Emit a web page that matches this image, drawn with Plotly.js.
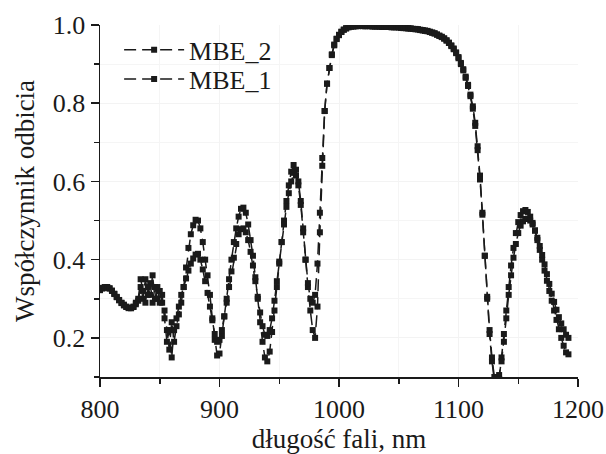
<!DOCTYPE html>
<html>
<head>
<meta charset="utf-8">
<script src="https://cdn.plot.ly/plotly-3.0.1.min.js"></script>
<style>html,body{margin:0;padding:0;background:#fff;}</style>
</head>
<body>
<div id="chart" style="width:606px;height:454px;"></div>
<script>
const wavelength = [
  800,802,804,806,808,810,812,814,816,818,
  820,822,824,826,828,830,832,834,836,838,
  840,842,844,846,848,850,852,854,856,858,
  860,862,864,866,868,870,872,874,876,878,
  880,882,884,886,888,890,892,894,896,898,
  900,902,904,906,908,910,912,914,916,918,
  920,922,924,926,928,930,932,934,936,938,
  940,942,944,946,948,950,952,954,956,958,
  960,962,964,966,968,970,972,974,976,978,
  980,982,984,986,988,990,992,994,996,998,
  1000,1002,1004,1006,1008,1010,1012,1014,1016,1018,
  1020,1022,1024,1026,1028,1030,1032,1034,1036,1038,
  1040,1042,1044,1046,1048,1050,1052,1054,1056,1058,
  1060,1062,1064,1066,1068,1070,1072,1074,1076,1078,
  1080,1082,1084,1086,1088,1090,1092,1094,1096,1098,
  1100,1102,1104,1106,1108,1110,1112,1114,1116,1118,
  1120,1122,1124,1126,1128,1130,1132,1134,1136,1138,
  1140,1142,1144,1146,1148,1150,1152,1154,1156,1158,
  1160,1162,1164,1166,1168,1170,1172,1174,1176,1178,
  1180,1182,1184,1186,1188,1190,1192
];

const mbe2 = [
  0.325,0.328,0.330,0.330,0.327,0.321,0.313,0.305,0.297,0.290,
  0.285,0.280,0.277,0.276,0.279,0.286,0.295,0.330,0.300,0.350,
  0.310,0.340,0.290,0.330,0.300,0.320,0.290,0.270,0.220,0.170,
  0.240,0.190,0.230,0.260,0.290,0.330,0.380,0.430,0.465,0.488,
  0.502,0.500,0.480,0.445,0.400,0.360,0.310,0.250,0.195,0.155,
  0.160,0.205,0.255,0.300,0.350,0.400,0.445,0.480,0.510,0.530,
  0.533,0.520,0.490,0.450,0.410,0.355,0.300,0.240,0.190,0.150,
  0.140,0.165,0.215,0.270,0.330,0.390,0.445,0.500,0.550,0.590,
  0.625,0.642,0.630,0.600,0.550,0.480,0.400,0.330,0.270,0.220,
  0.200,0.280,0.470,0.640,0.780,0.850,0.890,0.925,0.950,0.965,
  0.975,0.983,0.988,0.992,0.995,0.996,0.997,0.997,0.998,0.998,
  0.997,0.997,0.998,0.997,0.997,0.996,0.997,0.996,0.996,0.995,
  0.996,0.995,0.995,0.994,0.995,0.994,0.993,0.993,0.992,0.992,
  0.991,0.990,0.990,0.989,0.988,0.987,0.986,0.985,0.983,0.981,
  0.979,0.976,0.973,0.970,0.966,0.961,0.955,0.948,0.940,0.930,
  0.918,0.903,0.887,0.868,0.847,0.822,0.792,0.750,0.690,0.615,
  0.520,0.410,0.300,0.210,0.140,0.090,0.070,0.095,0.150,0.210,
  0.270,0.330,0.385,0.430,0.468,0.496,0.514,0.524,0.527,0.522,
  0.510,0.494,0.474,0.450,0.425,0.400,0.372,0.346,0.320,0.295,
  0.270,0.246,0.222,0.200,0.180,0.163,0.158
];

const mbe1 = [
  0.322,0.326,0.328,0.329,0.326,0.320,0.312,0.304,0.296,0.289,
  0.283,0.279,0.276,0.276,0.280,0.290,0.300,0.350,0.320,0.290,
  0.330,0.310,0.360,0.300,0.330,0.290,0.310,0.250,0.190,0.220,
  0.150,0.220,0.250,0.280,0.310,0.330,0.352,0.372,0.390,0.403,
  0.413,0.415,0.400,0.375,0.345,0.315,0.280,0.245,0.210,0.190,
  0.195,0.220,0.255,0.290,0.330,0.370,0.405,0.440,0.465,0.478,
  0.480,0.470,0.450,0.420,0.385,0.345,0.305,0.265,0.230,0.208,
  0.205,0.220,0.250,0.295,0.345,0.395,0.445,0.490,0.535,0.570,
  0.600,0.622,0.615,0.590,0.540,0.470,0.400,0.340,0.300,0.290,
  0.310,0.390,0.520,0.660,0.780,0.850,0.890,0.923,0.948,0.964,
  0.974,0.982,0.988,0.991,0.994,0.996,0.996,0.997,0.997,0.998,
  0.998,0.997,0.997,0.998,0.996,0.997,0.996,0.996,0.995,0.996,
  0.995,0.995,0.994,0.995,0.994,0.994,0.993,0.992,0.992,0.991,
  0.991,0.990,0.989,0.989,0.987,0.986,0.985,0.984,0.982,0.980,
  0.978,0.975,0.972,0.969,0.965,0.960,0.954,0.946,0.938,0.928,
  0.915,0.900,0.884,0.865,0.844,0.818,0.786,0.742,0.680,0.605,
  0.515,0.410,0.305,0.220,0.150,0.100,0.088,0.105,0.140,0.190,
  0.250,0.310,0.360,0.405,0.440,0.468,0.487,0.498,0.504,0.505,
  0.500,0.490,0.475,0.456,0.435,0.412,0.388,0.363,0.338,0.313,
  0.292,0.272,0.253,0.237,0.222,0.208,0.200
];

const seriesNames = ['MBE_2', 'MBE_1'];
const xTicks = [800, 900, 1000, 1100, 1200];
const xTickText = ['800', '900', '1000', '1100', '1200'];
const yTicks = [0.2, 0.4, 0.6, 0.8, 1.0];
const yTickText = ['0.2', '0.4', '0.6', '0.8', '1.0'];

const FONT = 'Liberation Serif, Times New Roman, serif';
const INK = '#1a1a1a';

function trace(name, ys, legendId) {
  return {
    x: wavelength, y: ys, name: name, type: 'scatter', mode: 'lines+markers',
    legend: legendId,
    line: {color: INK, width: 1.5, dash: '12px,6px'},
    marker: {color: INK, size: 6, symbol: 'square'}
  };
}

const data = [trace(seriesNames[0], mbe2, 'legend'), trace(seriesNames[1], mbe1, 'legend2')];

function legendAt(y) {
  return {x: 0.04, y: y, xanchor: 'left', yanchor: 'top',
    bgcolor: 'rgba(0,0,0,0)', borderwidth: 0, itemwidth: 60,
    font: {family: FONT, size: 26, color: INK}};
}

const layout = {
  width: 606, height: 454,
  margin: {l: 100, r: 28, t: 25, b: 77, pad: 0},
  paper_bgcolor: '#fff', plot_bgcolor: '#fff',
  font: {family: FONT, size: 26, color: INK},
  showlegend: true,
  legend: legendAt(0.996),
  legend2: legendAt(0.913),
  xaxis: {
    range: [800, 1200], tickmode: 'array', tickvals: xTicks, ticktext: xTickText,
    ticks: 'outside', ticklen: 8, tickwidth: 1.5, tickcolor: INK,
    showline: true, linecolor: INK, linewidth: 1.5, mirror: false,
    showgrid: true, gridcolor: '#f3f3f3', gridwidth: 1, zeroline: false,
    minor: {dtick: 50, tick0: 800, ticks: 'outside', ticklen: 5, tickwidth: 1.5, tickcolor: INK, showgrid: true, gridcolor: '#f5f5f5'},
    tickfont: {family: FONT, size: 26, color: INK},
    title: {text: 'długość fali, nm', font: {family: FONT, size: 27, color: INK}, standoff: 8}
  },
  yaxis: {
    range: [0.1, 1.0], tickmode: 'array', tickvals: yTicks, ticktext: yTickText,
    ticks: 'outside', ticklen: 8, tickwidth: 1.5, tickcolor: INK,
    showline: true, linecolor: INK, linewidth: 1.5, mirror: false,
    showgrid: true, gridcolor: '#f3f3f3', gridwidth: 1, zeroline: false,
    minor: {dtick: 0.1, tick0: 0.1, ticks: 'outside', ticklen: 5, tickwidth: 1.5, tickcolor: INK, showgrid: true, gridcolor: '#f5f5f5'},
    tickfont: {family: FONT, size: 26, color: INK},
    title: {text: 'Współczynnik odbicia', font: {family: FONT, size: 27, color: INK}, standoff: 10}
  }
};

Plotly.newPlot('chart', data, layout, {displayModeBar: false, staticPlot: true});
</script>
</body>
</html>
